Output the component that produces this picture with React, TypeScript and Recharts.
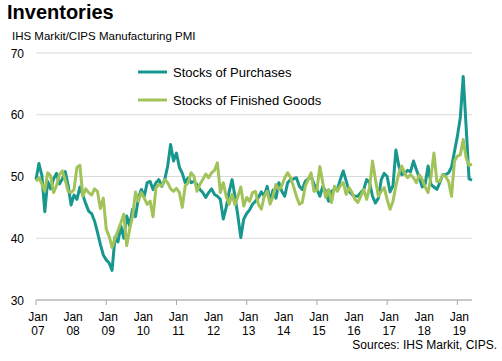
import React from "react";
import { CartesianGrid, Line, LineChart, XAxis, YAxis } from "recharts";

// monthly index readings, Jan 2007 .. Jun 2019
const stocksOfPurchases = [
  49.5, 52.1, 50.2, 44.3, 49.2, 48.0, 49.6, 50.5, 48.8, 49.6, 50.8, 48.5, // 2007
  45.4, 47.0, 46.3, 48.3, 47.0, 45.6, 44.4, 44.0, 42.8, 41.0, 39.0, 37.3, // 2008
  36.5, 36.0, 34.8, 40.2, 39.4, 42.0, 40.0, 43.6, 42.0, 44.7, 43.5, 46.5, // 2009
  47.9, 46.8, 49.0, 49.2, 47.9, 49.0, 49.5, 48.4, 49.5, 51.7, 55.2, 52.5, // 2010
  53.8, 51.5, 50.5, 49.0, 49.8, 49.0, 49.2, 48.7, 47.9, 47.4, 46.6, 47.4, // 2011
  48.0, 47.1, 46.8, 46.3, 43.1, 45.0, 47.5, 49.5, 46.8, 43.6, 40.1, 43.1, // 2012
  44.0, 44.6, 45.5, 46.0, 46.6, 47.5, 46.8, 48.4, 46.0, 47.8, 46.5, 49.0, // 2013
  47.6, 46.8, 49.0, 49.5, 49.6, 49.8, 48.4, 47.9, 49.2, 49.6, 50.0, 48.8, // 2014
  47.9, 46.8, 48.4, 47.6, 46.0, 47.6, 47.9, 47.9, 49.5, 50.9, 49.3, 47.6, // 2015
  47.1, 46.8, 46.8, 47.4, 47.9, 49.5, 49.0, 46.8, 45.7, 46.5, 49.5, 50.5, // 2016
  50.0, 47.5, 48.5, 54.3, 51.7, 50.3, 50.5, 51.0, 50.8, 52.5, 51.1, 49.8, // 2017
  48.3, 48.8, 51.7, 48.7, 48.3, 47.9, 49.0, 50.3, 50.3, 50.6, 51.5, 54.0, // 2018
  56.5, 59.5, 66.2, 58.0, 49.6, 49.4, // 2019
];

const stocksOfFinishedGoods = [
  49.2, 49.8, 48.8, 47.6, 50.6, 50.1, 47.4, 48.5, 50.3, 50.9, 49.4, 47.6, // 2007
  47.4, 47.9, 51.5, 51.8, 46.8, 48.0, 47.4, 47.0, 48.0, 47.6, 44.8, 46.5, // 2008
  41.5, 40.3, 38.5, 40.0, 41.2, 42.5, 43.9, 38.8, 41.5, 43.5, 47.5, 46.0, // 2009
  47.4, 46.5, 45.5, 46.0, 43.5, 48.2, 48.7, 48.5, 49.5, 49.0, 48.0, 47.6, // 2010
  48.1, 47.4, 45.0, 48.5, 49.0, 50.6, 50.0, 47.6, 48.7, 49.5, 50.4, 49.8, // 2011
  50.6, 51.0, 52.2, 47.4, 49.0, 46.8, 45.5, 47.1, 45.4, 46.8, 48.3, 45.2, // 2012
  46.6, 46.0, 47.4, 47.6, 45.5, 44.7, 46.8, 47.6, 45.5, 46.8, 48.7, 47.9, // 2013
  48.5, 49.8, 50.6, 49.8, 48.4, 46.8, 45.5, 45.8, 48.4, 49.5, 50.6, 47.6, // 2014
  47.8, 51.6, 49.0, 46.6, 47.9, 45.8, 48.4, 47.6, 48.5, 49.0, 47.1, 48.2, // 2015
  47.4, 46.3, 45.8, 46.8, 47.9, 46.3, 48.2, 52.5, 49.5, 46.8, 47.6, 48.2, // 2016
  46.3, 44.7, 46.0, 48.5, 50.5, 51.7, 50.5, 49.8, 50.3, 49.8, 49.0, 50.3, // 2017
  49.5, 48.3, 47.4, 50.0, 53.8, 49.2, 49.2, 50.3, 50.0, 49.2, 46.8, 52.5, // 2018
  53.3, 53.5, 56.0, 53.0, 51.8, 52.0, // 2019
];

const yearLabels = ["07", "08", "09", "10", "11", "12", "13", "14", "15", "16", "17", "18", "19"];
const yTicks = [30, 40, 50, 60, 70];
const xTicks = yearLabels.map((_, i) => i * 12);

const data = stocksOfPurchases.map((v, i) => ({
  month: i,
  purchases: v,
  finished: stocksOfFinishedGoods[i],
}));

const FONT = '"Liberation Sans", Arial, sans-serif';
const TEAL = "#17978d";
const GREEN = "#a2c35a";
const AXIS_GREY = "#a6a6a6";

const XTick = (props: any) => {
  const { x, y, payload } = props;
  const m = payload.value as number;
  const top = y - 8;
  return (
    <g>
      {m % 24 === 0 && <line x1={x} x2={x} y1={top} y2={top + 5} stroke={AXIS_GREY} />}
      <text x={x + 2} y={y} textAnchor="middle" fontSize={12} fill="#000" fontFamily={FONT}>
        <tspan x={x + 2} dy={13}>Jan</tspan>
        <tspan x={x + 2} dy={13.5}>{yearLabels[m / 12]}</tspan>
      </text>
    </g>
  );
};

const YTick = (props: any) => {
  const { y, payload } = props;
  return (
    <text x={24} y={y + 4.5} textAnchor="end" fontSize={12} fill="#000" fontFamily={FONT}>
      {payload.value}
    </text>
  );
};

export default function App() {
  return (
    <div style={{ position: "absolute", left: 0, top: 0, width: 502, height: 361, background: "#fff", fontFamily: FONT }}>
      <LineChart width={502} height={361} data={data} margin={{ top: 53, right: 30, bottom: 0, left: 0 }}>
        <CartesianGrid vertical={false} stroke="#d9d9d9" />
        <XAxis
          type="number"
          dataKey="month"
          domain={[0, 149]}
          ticks={xTicks}
          interval={0}
          tick={<XTick />}
          tickLine={false}
          axisLine={{ stroke: AXIS_GREY }}
          height={61}
        />
        <YAxis
          domain={[30, 70]}
          ticks={yTicks}
          interval={0}
          tick={<YTick />}
          tickLine={false}
          axisLine={false}
          width={36}
        />
        <Line
          type="linear"
          dataKey="purchases"
          stroke={TEAL}
          strokeWidth={3}
          dot={false}
          strokeLinejoin="round"
          isAnimationActive={false}
        />
        <Line
          type="linear"
          dataKey="finished"
          stroke={GREEN}
          strokeWidth={3}
          dot={false}
          strokeLinejoin="round"
          isAnimationActive={false}
        />
      </LineChart>
      <svg width={502} height={361} style={{ position: "absolute", left: 0, top: 0, pointerEvents: "none" }}>
        <text x={7} y={19} fontSize={20} fontWeight="bold" fontFamily={FONT}>Inventories</text>
        <text x={12} y={40} fontSize={11.5} fontFamily={FONT}>IHS Markit/CIPS Manufacturing PMI</text>
        <line x1={138} x2={167} y1={72} y2={72} stroke={TEAL} strokeWidth={3} />
        <text x={173} y={76.5} fontSize={13} fontFamily={FONT}>Stocks of Purchases</text>
        <line x1={138} x2={167} y1={100} y2={100} stroke={GREEN} strokeWidth={3} />
        <text x={173} y={104.5} fontSize={13} fontFamily={FONT}>Stocks of Finished Goods</text>
        <text x={497} y={349} fontSize={12} textAnchor="end" fontFamily={FONT}>Sources: IHS Markit, CIPS.</text>
      </svg>
    </div>
  );
}
